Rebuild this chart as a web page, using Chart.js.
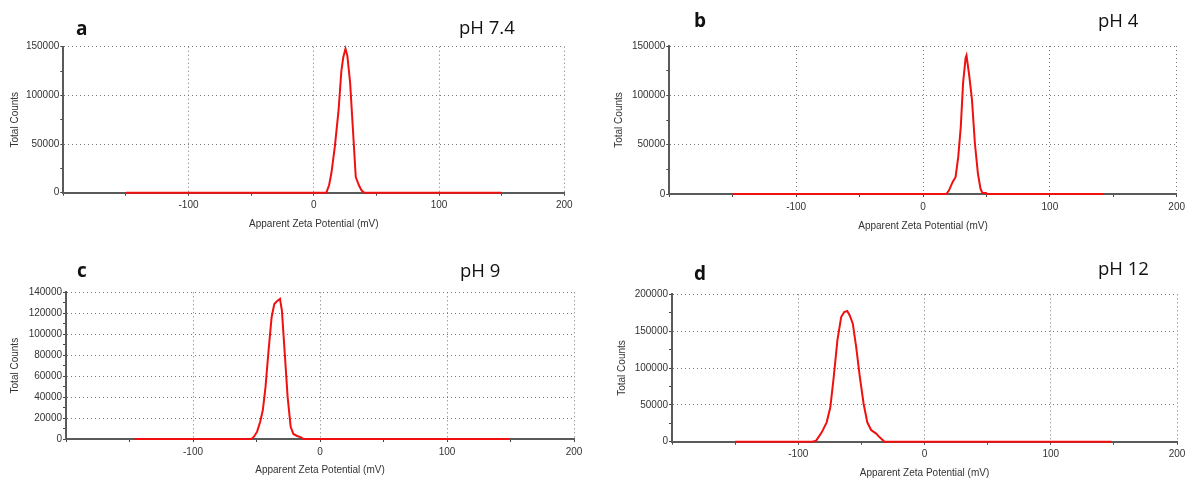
<!DOCTYPE html>
<html>
<head>
<meta charset="utf-8">
<script src="https://cdn.jsdelivr.net/npm/chart.js@4.4.1/dist/chart.umd.min.js"></script>
<style>
  body { margin: 0; background: #fff; width: 1191px; height: 482px; position: relative; overflow: hidden; }
  canvas { position: absolute; }
  .tag { position: absolute; font-family: "Open Sans", sans-serif; color: #111; line-height: 1; white-space: nowrap; }
  .letra { font-weight: 700; font-size: 19px; }
  .ph { font-size: 18.5px; }
</style>
</head>
<body>
<canvas id="graficaA"></canvas>
<canvas id="graficaB"></canvas>
<canvas id="graficaC"></canvas>
<canvas id="graficaD"></canvas>

<div class="tag letra" style="left:76px;top:19px">a</div>
<div class="tag ph" style="left:459px;top:17.6px">pH 7.4</div>
<div class="tag letra" style="left:694px;top:11px">b</div>
<div class="tag ph" style="left:1098px;top:10.6px">pH 4</div>
<div class="tag letra" style="left:77px;top:261px">c</div>
<div class="tag ph" style="left:460px;top:260.6px">pH 9</div>
<div class="tag letra" style="left:694px;top:264px">d</div>
<div class="tag ph" style="left:1098px;top:258.6px">pH 12</div>

<script>
// --- DATOS: potencial zeta (mV) y cuentas totales de cada muestra ---
const zetaA    = [-150, 10, 12.2, 14, 16.8, 19.8, 22, 23.5, 25.3, 26.8, 29, 31.1, 33.5, 36, 38.1, 40.2, 150];
const cuentasA = [0, 0, 7600, 19700, 47300, 85000, 125000, 139000, 148000, 140600, 113000, 68000, 16000, 7600, 2400, 0, 0];

const zetaB    = [-150, 18.4, 20.5, 23.4, 25.7, 27.8, 29.8, 31.6, 33.6, 34.3, 36.5, 38.6, 40.9, 43.3, 45.3, 46.8, 49.7, 50.6, 142];
const cuentasB = [0, 0, 3700, 12200, 17300, 37800, 68400, 112600, 138000, 140500, 119400, 95600, 51400, 20700, 5400, 1000, 1000, 0, 0];

const zetaC    = [-146, -54, -52, -49.5, -47.1, -45, -42.9, -40.5, -38.1, -36, -33.9, -31.5, -30, -27.9, -25.5, -23.1, -21, -18, -15, -12.9, 149];
const cuentasC = [0, 0, 2200, 7000, 16500, 27600, 49700, 84600, 116200, 128900, 131400, 133700, 122600, 84600, 40200, 11700, 4800, 2900, 1600, 0, 0];

const zetaD    = [-150, -88.8, -85.8, -81.4, -77.5, -74.6, -71.9, -69, -66, -63.6, -61.2, -59.2, -56.8, -54.1, -51.2, -48.2, -45.3, -42.3, -38.5, -35.5, -31.7, 148];
const cuentasD = [0, 0, 1400, 12700, 26300, 46700, 87500, 137400, 169200, 176000, 177300, 171400, 160100, 128300, 87500, 51200, 26300, 15900, 11300, 5900, 0, 0];

// ejes: rango de mV y escalas de cuentas (max, paso de marcas, paso de etiquetas)
const rangoZeta = [-200, 200];
const pasoZeta = 50;
const ejeCuentasA = [150000, 25000, 50000];
const ejeCuentasB = [150000, 25000, 50000];
const ejeCuentasC = [140000, 10000, 20000];
const ejeCuentasD = [200000, 25000, 50000];

const TITULO_X = 'Apparent Zeta Potential (mV)';
const TITULO_Y = 'Total Counts';

const GRIS_EJE = '#5a5a5a';
const GRIS_PUNTOS = '#777';
const ROJO = '#f01010';
const FUENTE = { family: '"Liberation Sans", Arial, sans-serif', size: 10 };

//      PANEL (canvas + grafica)
function crearPanel(id, marco, area, titulos, zeta, cuentas, ejeY) {
    const canvas = document.getElementById(id);
    canvas.width = marco.w;
    canvas.height = marco.h;
    canvas.style.left = marco.x + 'px';
    canvas.style.top = marco.y + 'px';

    const lh = FUENTE.size * 1.2;
    const anchoY = area.izq - marco.x;
    const altoX = marco.y + marco.h - area.abajo;
    const [maxY, pasoY, etiquetaY] = ejeY;

    return new Chart(canvas, {
        type: 'line',
        data: {
            datasets: [{
                data: zeta.map((x, i) => ({ x: x, y: cuentas[i] })),
                borderColor: ROJO,
                borderWidth: 2,
                pointRadius: 0,
                tension: 0,
                clip: false
            }]
        },
        options: {
            responsive: false,
            animation: false,
            events: [],
            layout: {
                padding: { left: 0, top: area.arriba - marco.y, right: marco.x + marco.w - area.der, bottom: 0 }
            },
            plugins: { legend: { display: false }, tooltip: { enabled: false } },
            scales: {
                x: {
                    type: 'linear',
                    min: rangoZeta[0],
                    max: rangoZeta[1],
                    border: { color: GRIS_EJE, width: 2, dash: [1, 3] },
                    grid: {
                        color: (c) => (c.tick && c.tick.value % 100 === 0 && c.tick.value > rangoZeta[0]) ? GRIS_PUNTOS : 'rgba(0,0,0,0)',
                        tickColor: '#444',
                        tickLength: 3,
                        lineWidth: 1
                    },
                    ticks: {
                        stepSize: pasoZeta,
                        autoSkip: false,
                        maxRotation: 0,
                        padding: 4,
                        color: '#333',
                        font: FUENTE,
                        callback: (v) => (v % 100 === 0 && v !== rangoZeta[0]) ? String(v) : ''
                    },
                    title: {
                        display: true,
                        text: TITULO_X,
                        color: '#333',
                        font: FUENTE,
                        padding: { top: 0, bottom: marco.y + marco.h - titulos.x - lh / 2 }
                    },
                    afterFit: (s) => { s.height = altoX; s.paddingLeft = 0; s.paddingRight = 0; }
                },
                y: {
                    type: 'linear',
                    min: 0,
                    max: maxY,
                    border: { color: GRIS_EJE, width: 2, dash: [1, 3] },
                    grid: {
                        color: (c) => (c.tick && c.tick.value % etiquetaY === 0 && c.tick.value > 0) ? GRIS_PUNTOS : 'rgba(0,0,0,0)',
                        tickColor: '#444',
                        tickLength: 3,
                        lineWidth: 1
                    },
                    ticks: {
                        stepSize: pasoY,
                        autoSkip: false,
                        padding: 1,
                        color: '#333',
                        font: FUENTE,
                        callback: (v) => (v % etiquetaY === 0) ? String(v) : ''
                    },
                    title: {
                        display: true,
                        text: TITULO_Y,
                        color: '#333',
                        font: FUENTE,
                        padding: { top: titulos.y - marco.x - lh / 2, bottom: 0 }
                    },
                    afterFit: (s) => { s.width = anchoY; s.paddingTop = 0; s.paddingBottom = 0; }
                }
            }
        }
    });
}

crearPanel('graficaA',
    { x: 0, y: 0, w: 600, h: 240 },
    { izq: 63.3, der: 564.3, arriba: 46.7, abajo: 192.7 },
    { x: 224, y: 15 },
    zetaA, cuentasA, ejeCuentasA);

crearPanel('graficaB',
    { x: 600, y: 0, w: 591, h: 240 },
    { izq: 669.3, der: 1176.7, arriba: 46, abajo: 194 },
    { x: 226.5, y: 619.3 },
    zetaB, cuentasB, ejeCuentasB);

crearPanel('graficaC',
    { x: 0, y: 240, w: 600, h: 242 },
    { izq: 66, der: 574, arriba: 292.3, abajo: 439 },
    { x: 470, y: 15.7 },
    zetaC, cuentasC, ejeCuentasC);

crearPanel('graficaD',
    { x: 600, y: 240, w: 591, h: 242 },
    { izq: 672, der: 1177, arriba: 294.3, abajo: 441.7 },
    { x: 473, y: 622.7 },
    zetaD, cuentasD, ejeCuentasD);
</script>
</body>
</html>
